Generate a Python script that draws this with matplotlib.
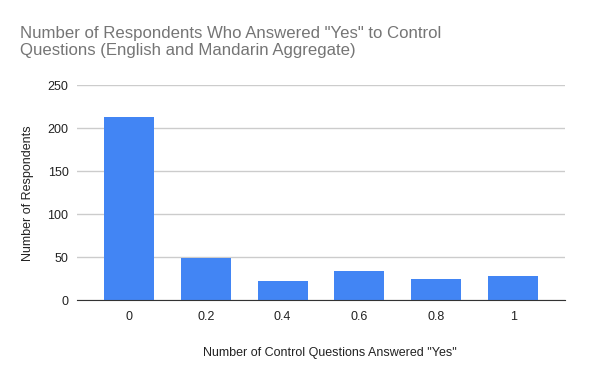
import numpy as np
import matplotlib.pyplot as plt
import matplotlib

matplotlib.rcParams['font.family'] = ['Liberation Sans', 'DejaVu Sans']

# data
categories = ['0', '0.2', '0.4', '0.6', '0.8', '1']
respondents = [213, 49, 22, 34, 25, 28]
y_ticks = [0, 50, 100, 150, 200, 250]

fig = plt.figure(figsize=(6, 3.71), dpi=100)
ax = fig.add_axes([0.128, 0.1906, 0.814, 0.5794])

x = np.arange(len(categories))
ax.bar(x, respondents, width=0.65, color='#4285F4', zorder=3)

ax.set_xlim(-0.677, len(categories) - 1 + 0.677)
ax.set_ylim(0, 250)
ax.set_yticks(y_ticks)
ax.set_xticks(x)
ax.set_xticklabels(categories)
ax.grid(axis='y', color='#cccccc', linewidth=1, zorder=0)

for s in ['top', 'right', 'left']:
    ax.spines[s].set_visible(False)
ax.spines['bottom'].set_color('#333333')
ax.spines['bottom'].set_zorder(4)
ax.tick_params(length=0, labelsize=9, colors='#222222', pad=8)
ax.tick_params(axis='y', pad=6)

ax.set_xlabel('Number of Control Questions Answered "Yes"', fontsize=9, color='#222222')
ax.xaxis.set_label_coords(0.519, -0.215)
ax.set_ylabel('Number of Respondents', fontsize=9, color='#222222', labelpad=10)

# 标题
fig.text(0.033, 0.93, 'Number of Respondents Who Answered "Yes" to Control\nQuestions (English and Mandarin Aggregate)',
         fontsize=12.1, color='#757575', va='top', ha='left', linespacing=1.2)

fig.savefig('out.png', dpi=100)
